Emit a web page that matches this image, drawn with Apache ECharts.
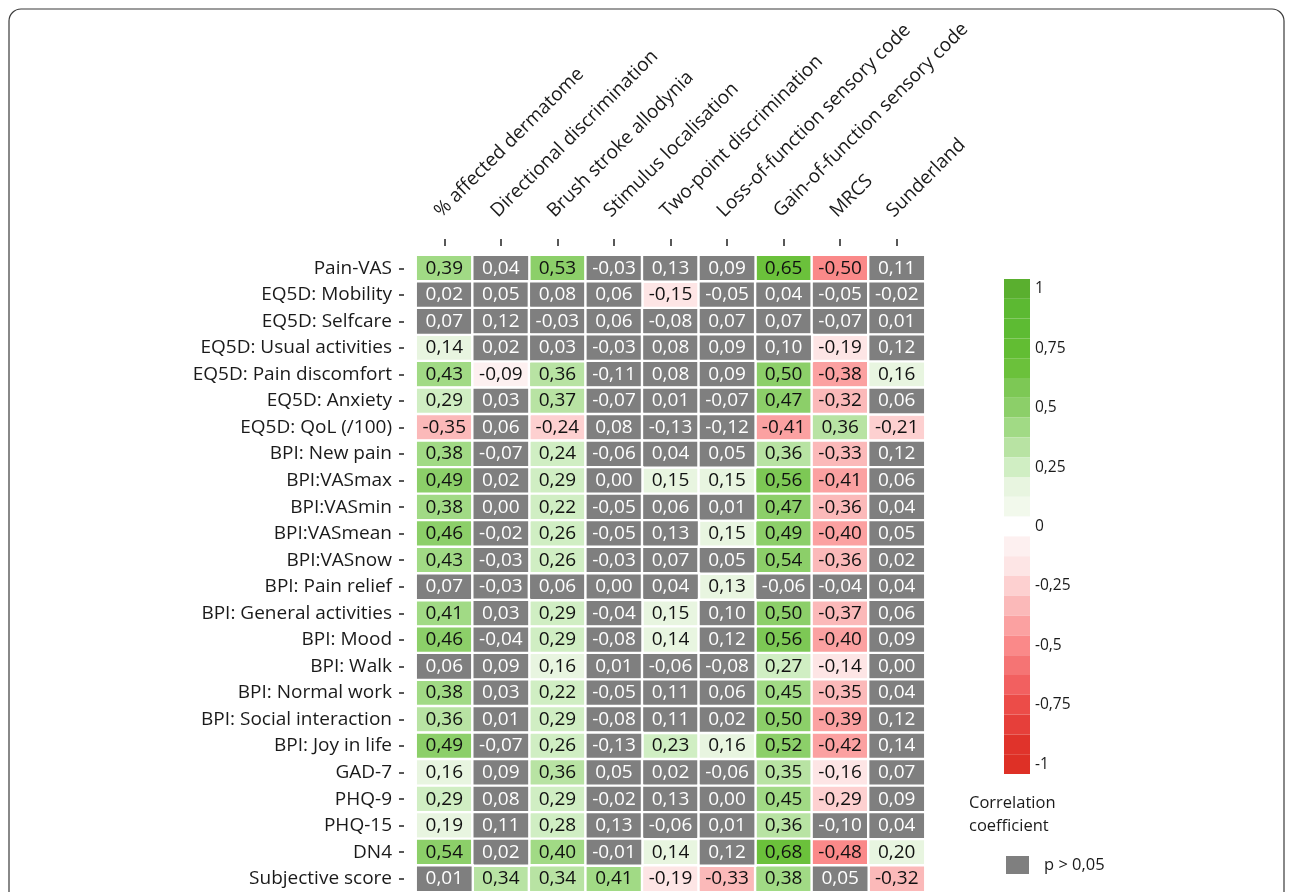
<!DOCTYPE html>
<html><head><meta charset="utf-8">
<script src="https://cdn.jsdelivr.net/npm/echarts@6/dist/echarts.min.js"></script>
<style>html,body{margin:0;padding:0;background:#fff}#c{width:1292px;height:892px}</style>
</head><body><div id="c"></div>
<script>
const columns = ['% affected dermatome','Directional discrimination','Brush stroke allodynia','Stimulus localisation','Two-point discrimination','Loss-of-function sensory code','Gain-of-function sensory code','MRCS','Sunderland'];
const rows = ['Pain-VAS','EQ5D: Mobility','EQ5D: Selfcare','EQ5D: Usual activities','EQ5D: Pain discomfort','EQ5D: Anxiety','EQ5D: QoL (/100)','BPI: New pain','BPI:VASmax','BPI:VASmin','BPI:VASmean','BPI:VASnow','BPI: Pain relief','BPI: General activities','BPI: Mood','BPI: Walk','BPI: Normal work','BPI: Social interaction','BPI: Joy in life','GAD-7','PHQ-9','PHQ-15','DN4','Subjective score'];
const rValues = [
  [0.39, 0.04, 0.53, -0.03, 0.13, 0.09, 0.65, -0.50, 0.11],
  [0.02, 0.05, 0.08, 0.06, -0.15, -0.05, 0.04, -0.05, -0.02],
  [0.07, 0.12, -0.03, 0.06, -0.08, 0.07, 0.07, -0.07, 0.01],
  [0.14, 0.02, 0.03, -0.03, 0.08, 0.09, 0.10, -0.19, 0.12],
  [0.43, -0.09, 0.36, -0.11, 0.08, 0.09, 0.50, -0.38, 0.16],
  [0.29, 0.03, 0.37, -0.07, 0.01, -0.07, 0.47, -0.32, 0.06],
  [-0.35, 0.06, -0.24, 0.08, -0.13, -0.12, -0.41, 0.36, -0.21],
  [0.38, -0.07, 0.24, -0.06, 0.04, 0.05, 0.36, -0.33, 0.12],
  [0.49, 0.02, 0.29, 0.00, 0.15, 0.15, 0.56, -0.41, 0.06],
  [0.38, 0.00, 0.22, -0.05, 0.06, 0.01, 0.47, -0.36, 0.04],
  [0.46, -0.02, 0.26, -0.05, 0.13, 0.15, 0.49, -0.40, 0.05],
  [0.43, -0.03, 0.26, -0.03, 0.07, 0.05, 0.54, -0.36, 0.02],
  [0.07, -0.03, 0.06, 0.00, 0.04, 0.13, -0.06, -0.04, 0.04],
  [0.41, 0.03, 0.29, -0.04, 0.15, 0.10, 0.50, -0.37, 0.06],
  [0.46, -0.04, 0.29, -0.08, 0.14, 0.12, 0.56, -0.40, 0.09],
  [0.06, 0.09, 0.16, 0.01, -0.06, -0.08, 0.27, -0.14, 0.00],
  [0.38, 0.03, 0.22, -0.05, 0.11, 0.06, 0.45, -0.35, 0.04],
  [0.36, 0.01, 0.29, -0.08, 0.11, 0.02, 0.50, -0.39, 0.12],
  [0.49, -0.07, 0.26, -0.13, 0.23, 0.16, 0.52, -0.42, 0.14],
  [0.16, 0.09, 0.36, 0.05, 0.02, -0.06, 0.35, -0.16, 0.07],
  [0.29, 0.08, 0.29, -0.02, 0.13, 0.00, 0.45, -0.29, 0.09],
  [0.19, 0.11, 0.28, 0.13, -0.06, 0.01, 0.36, -0.10, 0.04],
  [0.54, 0.02, 0.40, -0.01, 0.14, 0.12, 0.68, -0.48, 0.20],
  [0.01, 0.34, 0.34, 0.41, -0.19, -0.33, 0.38, 0.05, -0.32]
];
// 1 = p <= 0,05 (coloured), 0 = p > 0,05 (grey)
const significant = [
  [1,0,1,0,0,0,1,1,0],
  [0,0,0,0,1,0,0,0,0],
  [0,0,0,0,0,0,0,0,0],
  [1,0,0,0,0,0,0,1,0],
  [1,1,1,0,0,0,1,1,1],
  [1,0,1,0,0,0,1,1,0],
  [1,0,1,0,0,0,1,1,1],
  [1,0,1,0,0,0,1,1,0],
  [1,0,1,0,1,1,1,1,0],
  [1,0,1,0,0,0,1,1,0],
  [1,0,1,0,0,1,1,1,0],
  [1,0,1,0,0,0,1,1,0],
  [0,0,0,0,0,1,0,0,0],
  [1,0,1,0,1,0,1,1,0],
  [1,0,1,0,1,0,1,1,0],
  [0,0,1,0,0,0,1,1,0],
  [1,0,1,0,0,0,1,1,0],
  [1,0,1,0,0,0,1,1,0],
  [1,0,1,0,1,1,1,1,0],
  [1,0,1,0,0,0,1,1,0],
  [1,0,1,0,0,0,1,1,0],
  [1,0,1,0,0,0,1,0,0],
  [1,0,1,0,1,0,1,1,1],
  [0,1,1,1,1,1,1,0,1]
];
const scaleTickLabels = ['-1','-0,75','-0,5','-0,25','0','0,25','0,5','0,75','1'];
const greenSteps = ['#f2f9ec','#e8f5e0','#d0eec3','#b8e3a3','#a1da85','#8ccf69','#7dc855','#6bc13b','#62bd33','#5dbb33','#5cb932','#5aaf2f'];
const redSteps = ['#fdf0f0','#fde5e5','#fdd0d0','#fbb9b9','#fba1a1','#fa8989','#f57474','#f26060','#ec4c48','#e63f3a','#e0332b','#de3026'];

const fmt = v => v.toFixed(2).replace('.', ',');
const FONT = 'Open Sans';

const sigData = [], nsData = [];
rows.forEach((r, i) => columns.forEach((c, j) => {
  const item = [j, i, rValues[i][j]];
  (significant[i][j] ? sigData : nsData).push(item);
}));

const pieces = [];
for (let k = -12; k <= 12; k++) {
  const color = k > 0 ? greenSteps[k - 1] : (k < 0 ? redSteps[-k - 1] : '#ffffff');
  const label = (k % 3 === 0) ? scaleTickLabels[(k + 12) / 3] : ' ';
  pieces.push({ gte: (k - 0.5) / 12, lt: (k + 0.5) / 12, color: color, label: label });
}

const chart = echarts.init(document.getElementById('c'), null, { renderer: 'canvas' });
chart.setOption({
  backgroundColor: '#ffffff',
  animation: false,
  textStyle: { fontFamily: FONT },
  title: {
    text: 'Correlation\ncoefficient',
    left: 969, top: 792, padding: 0,
    textStyle: { fontFamily: FONT, fontSize: 16.5, fontWeight: 'normal', color: '#1a1a1a', lineHeight: 23 }
  },
  graphic: [{
    type: 'rect', silent: true, z: -1,
    shape: { x: 9, y: 9, width: 1275, height: 900, r: 12 },
    style: { fill: 'none', stroke: '#3a3a3a', lineWidth: 1.2 }
  }],
  legend: {
    data: ['p > 0,05'], left: 1004, top: 854, padding: 0,
    icon: 'rect', itemWidth: 25, itemHeight: 20, selectedMode: false,
    textStyle: { fontFamily: FONT, fontSize: 16.5, color: '#1a1a1a', padding: [0, 0, 0, 9] }
  },
  visualMap: {
    type: 'piecewise', seriesIndex: 0, orient: 'vertical',
    left: 1004, top: 279, padding: 0, itemWidth: 26, itemHeight: 19.8, itemGap: 0,
    itemSymbol: 'rect', align: 'left', textGap: 5, hoverLink: false, selectedMode: false,
    pieces: pieces,
    textStyle: { fontFamily: FONT, fontSize: 15.5, color: '#1a1a1a' }
  },
  grid: { left: 416, top: 255, width: 509, height: 638 },
  xAxis: {
    type: 'category', data: columns, position: 'top', offset: 9,
    axisLine: { show: false }, splitArea: { show: false },
    axisTick: { show: true, length: 7, alignWithLabel: true, lineStyle: { color: '#222', width: 1.5 } },
    axisLabel: { interval: 0, rotate: -45, margin: 25, verticalAlign: 'bottom',
      fontFamily: FONT, fontSize: 19, color: '#1a1a1a' }
  },
  yAxis: {
    type: 'category', data: rows, inverse: true, offset: 12,
    axisLine: { show: false }, splitArea: { show: false },
    axisTick: { show: true, length: 5, alignWithLabel: true, lineStyle: { color: '#222', width: 1.5 } },
    axisLabel: { interval: 0, margin: 12, fontFamily: FONT, fontSize: 19, color: '#1a1a1a' }
  },
  series: [{
    name: 'Correlation coefficient', type: 'heatmap', data: sigData,
    itemStyle: { borderColor: '#ffffff', borderWidth: 2.4 },
    label: { show: true, fontFamily: FONT, fontSize: 19, color: '#111111', formatter: p => fmt(p.value[2]) },
    emphasis: { disabled: true }
  }, {
    name: 'p > 0,05', type: 'heatmap', data: nsData,
    itemStyle: { color: '#7f7f7f', borderColor: '#ffffff', borderWidth: 2.4 },
    label: { show: true, fontFamily: FONT, fontSize: 19, color: '#ffffff', formatter: p => fmt(p.value[2]) },
    emphasis: { disabled: true }
  }]
});
</script></body></html>
